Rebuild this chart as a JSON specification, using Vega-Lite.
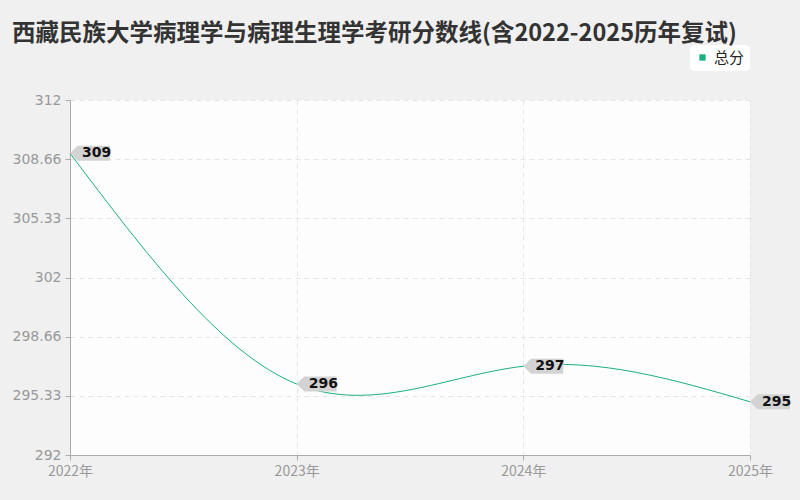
{
  "$schema": "https://vega.github.io/schema/vega-lite/v6.json",
  "autosize": {"type": "none"},
  "width": 680,
  "height": 355,
  "padding": {"left": 70, "top": 100, "right": 50, "bottom": 45},
  "background": "#f0f0f0",
  "title": {
    "text": "西藏民族大学病理学与病理生理学考研分数线(含2022-2025历年复试)",
    "anchor": "start",
    "frame": "group",
    "dx": -58,
    "dy": 4,
    "fontSize": 23.5,
    "fontWeight": "bold",
    "color": "#333333",
    "font": "Noto Sans CJK SC"
  },
  "config": {
    "font": "DejaVu Sans",
    "view": {"fill": "#fdfdfd", "stroke": null},
    "axis": {
      "labelColor": "#999999",
      "labelFontSize": 14,
      "domainColor": "#aaaaaa",
      "tickColor": "#aaaaaa",
      "gridColor": "#e6e6e6",
      "gridDash": [5, 4],
      "title": null
    }
  },
  "data": {
    "values": [
      {"year": "2022年", "score": 309, "series": "总分"},
      {"year": "2023年", "score": 296, "series": "总分"},
      {"year": "2024年", "score": 297, "series": "总分"},
      {"year": "2025年", "score": 295, "series": "总分"}
    ]
  },
  "encoding": {
    "x": {
      "field": "year",
      "type": "ordinal",
      "sort": null,
      "scale": {"type": "point", "padding": 0},
      "axis": {"labelAngle": 0, "grid": true, "tickSize": 5, "labelPadding": 4, "labelFont": "Noto Sans CJK SC"}
    },
    "y": {
      "field": "score",
      "type": "quantitative",
      "scale": {"domain": [292, 312], "nice": false, "zero": false},
      "axis": {"values": [292, 295.33, 298.66, 302, 305.33, 308.66, 312], "format": ".2~f", "tickSize": 5, "labelPadding": 4}
    }
  },
  "layer": [
    {
      "mark": {"type": "line", "interpolate": "natural", "strokeWidth": 1, "color": "#2dbf8f"},
      "encoding": {
        "color": {
          "field": "series",
          "type": "nominal",
          "scale": {"range": ["#1aaf80"]},
          "legend": {
            "orient": "none",
            "legendX": 620,
            "legendY": -55,
            "title": null,
            "symbolType": "square",
            "symbolSize": 40,
            "symbolFillColor": "#1aaf80",
            "symbolStrokeWidth": 0,
            "labelFontSize": 15,
            "labelColor": "#222222",
            "labelFont": "Noto Sans CJK SC",
            "fillColor": "#ffffff",
            "cornerRadius": 5,
            "padding": 5
          }
        }
      }
    },
    {
      "mark": {
        "type": "point",
        "shape": "M0,0 L0.38,-0.38 L2,-0.38 L2,0.38 L0.38,0.38 Z",
        "size": 1600,
        "filled": true,
        "fill": "#d3d3d3",
        "opacity": 1,
        "strokeWidth": 0
      }
    },
    {
      "mark": {"type": "text", "align": "left", "baseline": "middle", "dx": 12, "dy": 0, "fontSize": 14, "fontWeight": "bold", "color": "#111111"},
      "encoding": {"text": {"field": "score", "type": "quantitative"}}
    }
  ]
}
